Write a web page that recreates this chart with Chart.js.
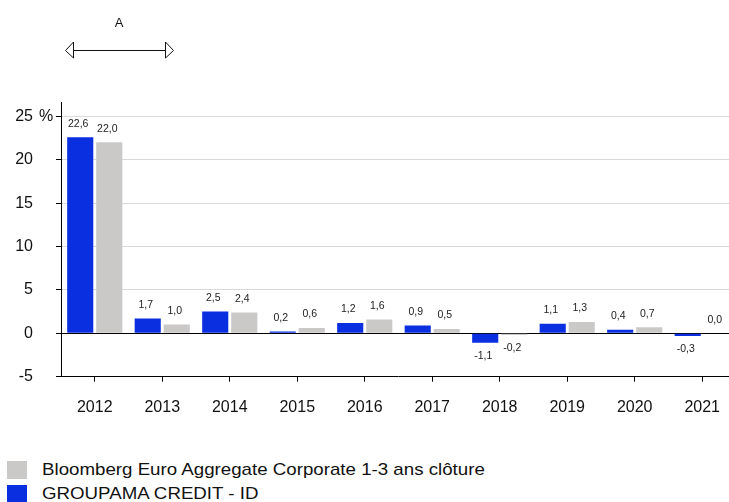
<!DOCTYPE html>
<html>
<head>
<meta charset="utf-8">
<script src="https://cdn.jsdelivr.net/npm/chart.js@4"></script>
<style>
  html, body { margin:0; padding:0; background:#fff; overflow:hidden; width:729px; height:502px; }
  #wrap { position:absolute; left:0; top:0; width:736px; height:440px; }
  .box { position:absolute; left:7px; width:20px; height:18px; }
  .txt { position:absolute; left:42px; font-family:"Liberation Sans", Arial, sans-serif; font-size:17px; line-height:17px; color:#111; white-space:nowrap; transform:scaleX(1.1); transform-origin:0 0; }
</style>
</head>
<body>
<div id="wrap"><canvas id="c" width="736" height="440"></canvas></div>
<div class="box" style="background:#cbc8c8;top:461px;"></div>
<div class="txt" id="l1" style="top:461px;"></div>
<div class="box" style="background:#0a2fe0;top:485px;"></div>
<div class="txt" id="l2" style="top:485px;"></div>
<script>
const categories = ['2012','2013','2014','2015','2016','2017','2018','2019','2020','2021'];
const fundName = 'GROUPAMA CREDIT - ID';
const fundValues = [22.6, 1.7, 2.5, 0.2, 1.2, 0.9, -1.1, 1.1, 0.4, -0.3];
const benchName = 'Bloomberg Euro Aggregate Corporate 1-3 ans clôture';
const benchValues = [22.0, 1.0, 2.4, 0.6, 1.6, 0.5, -0.2, 1.3, 0.7, 0.0];
const yTicks = [-5, 0, 5, 10, 15, 20, 25];
const yMin = -5, yMax = 26.65;

document.getElementById('l1').textContent = benchName;
document.getElementById('l2').textContent = fundName;

const FONT = '"Liberation Sans", Arial, sans-serif';

const labelPlugin = {
  id: 'valueLabels',
  afterDatasetsDraw(chart) {
    const ctx = chart.ctx;
    ctx.save();
    ctx.font = '10.5px ' + FONT;
    ctx.fillStyle = '#222';
    ctx.textAlign = 'center';
    ctx.textBaseline = 'middle';
    chart.data.datasets.forEach((ds, i) => {
      const meta = chart.getDatasetMeta(i);
      meta.data.forEach((el, j) => {
        const v = ds.data[j];
        const txt = v.toFixed(1).replace('.', ',');
        const y = v >= 0 ? el.y - 13.5 : el.y + 13.5;
        ctx.fillText(txt, el.x - 2, y);
      });
    });
    ctx.restore();
  }
};

const decorPlugin = {
  id: 'decor',
  afterDraw(chart) {
    const ctx = chart.ctx;
    ctx.save();
    ctx.font = '16px ' + FONT;
    ctx.fillStyle = '#111';
    ctx.textAlign = 'center';
    ctx.textBaseline = 'middle';
    const y25 = chart.scales.y.getPixelForValue(25);
    ctx.fillText('%', 46, y25);
    ctx.font = '13px ' + FONT;
    ctx.fillText('A', 119, 23);
    ctx.strokeStyle = '#111';
    ctx.lineWidth = 1;
    ctx.beginPath();
    ctx.moveTo(73, 50.5); ctx.lineTo(166, 50.5);
    ctx.stroke();
    ctx.beginPath();
    ctx.moveTo(73.5, 42); ctx.lineTo(65.5, 50.5); ctx.lineTo(73.5, 58); ctx.closePath();
    ctx.stroke();
    ctx.beginPath();
    ctx.moveTo(165.5, 42); ctx.lineTo(173.5, 50.5); ctx.lineTo(165.5, 58); ctx.closePath();
    ctx.stroke();
    ctx.restore();
  }
};

new Chart(document.getElementById('c'), {
  type: 'bar',
  data: {
    labels: categories,
    datasets: [
      { label: fundName, data: fundValues, backgroundColor: '#0a2fe0', borderWidth: 0 },
      { label: benchName, data: benchValues, backgroundColor: '#cbc8c8', borderWidth: 0 }
    ]
  },
  options: {
    responsive: false,
    animation: false,
    devicePixelRatio: 1,
    layout: { padding: { top: 102, left: 0, right: 0, bottom: 0 } },
    plugins: { legend: { display: false }, tooltip: { enabled: false }, title: { display: false } },
    datasets: { bar: { categoryPercentage: 0.86, barPercentage: 0.9 } },
    scales: {
      x: {
        afterFit(scale) { scale.height = 63.3; },
        grid: { offset: false, drawOnChartArea: false, drawTicks: true, tickLength: 5, color: '#000', tickColor: '#000' },
        border: { color: '#000', width: 1 },
        ticks: { padding: 16, color: '#111', font: { size: 16, family: FONT } }
      },
      y: {
        min: yMin, max: yMax,
        afterFit(scale) { scale.width = 61; },
        afterBuildTicks(scale) { scale.ticks = yTicks.map(v => ({ value: v })); },
        grid: {
          drawTicks: true, tickLength: 5,
          color: (c) => c.tick && c.tick.value === 0 ? '#000' : (c.tick && c.tick.value === -5 ? 'rgba(0,0,0,0)' : '#d9d9d9'),
          tickColor: '#000'
        },
        border: { color: '#000', width: 1 },
        ticks: { padding: 23, color: '#111', font: { size: 16, family: FONT }, callback: (v) => String(v) }
      }
    }
  },
  plugins: [labelPlugin, decorPlugin]
});
</script>
</body>
</html>
